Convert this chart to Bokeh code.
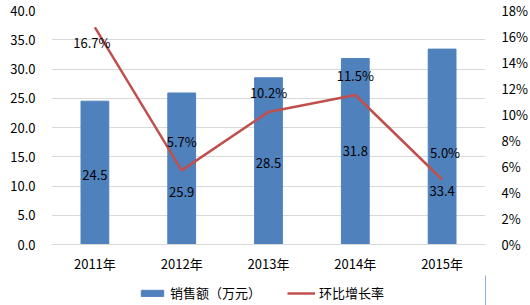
from bokeh.plotting import figure
from bokeh.layouts import column
from bokeh.models import (ColumnDataSource, Range1d, LinearAxis, FixedTicker,
                          PrintfTickFormatter, Legend, LegendItem, LabelSet)
from bokeh.core.properties import value
from bokeh.embed import file_html
from bokeh.resources import INLINE

years = ["2011年", "2012年", "2013年", "2014年", "2015年"]
sales = [24.5, 25.9, 28.5, 31.8, 33.4]
growth = [16.7, 5.7, 10.2, 11.5, 5.0]
sales_labels = ["24.5", "25.9", "28.5", "31.8", "33.4"]
growth_labels = ["16.7%", "5.7%", "10.2%", "11.5%", "5.0%"]
series_names = ["销售额（万元）", "环比增长率"]

FONT = "Noto Sans CJK SC"
BLUE = "#4f81bd"
RED = "#c0504d"
FS = "13px"

src = ColumnDataSource(dict(
    x=years, sales=sales, half=[v / 2 for v in sales], growth=growth,
    slab=sales_labels, glab=growth_labels,
    soff=[-2, -23, -2, 0, -44],
    goff=[-15, 29, 19, 20, 27],
    gxoff=[-3, 0, 0, 0, 3],
))

p = figure(x_range=years, y_range=Range1d(0, 40),
           width=530, height=275,
           output_backend="svg", toolbar_location=None,
           min_border_left=51, min_border_right=44, min_border_top=10,
           min_border_bottom=30)
p.extra_y_ranges = {"pct": Range1d(0, 18)}
p.outline_line_color = None
p.background_fill_color = "white"

p.xgrid.grid_line_color = None
p.ygrid.grid_line_color = "#d9d9d9"
p.ygrid.ticker = FixedTicker(ticks=[0, 5, 10, 15, 20, 25, 30, 35, 40])

p.vbar(x="x", top="sales", width=0.32, source=src, fill_color=BLUE,
       line_color=BLUE)
p.line(x="x", y="growth", y_range_name="pct", source=src,
       line_color=RED, line_width=2.5)

p.add_layout(LabelSet(x="x", y="half", text="slab", source=src,
                      y_offset="soff",
                      text_align="center", text_baseline="middle",
                      text_font=value(FONT), text_font_size=FS,
                      text_color="#000000"))
p.add_layout(LabelSet(x="x", y="growth", y_range_name="pct", text="glab",
                      source=src, y_offset="goff", x_offset="gxoff",
                      text_align="center", text_baseline="middle",
                      text_font=value(FONT), text_font_size=FS,
                      text_color="#000000"))

p.yaxis.ticker = FixedTicker(ticks=[0, 5, 10, 15, 20, 25, 30, 35, 40])
p.yaxis.formatter = PrintfTickFormatter(format="%.1f")

right = LinearAxis(y_range_name="pct",
                   ticker=FixedTicker(ticks=list(range(0, 19, 2))),
                   formatter=PrintfTickFormatter(format="%d%%"))
p.add_layout(right, "right")

for ax in [p.yaxis[0], right, p.xaxis[0]]:
    ax.axis_line_color = None
    ax.major_tick_line_color = None
    ax.minor_tick_line_color = None
    ax.major_label_text_font = FONT
    ax.major_label_text_font_size = FS
    ax.major_label_text_color = "#000000"
p.yaxis[0].major_label_standoff = 10
right.major_label_standoff = 10
p.xaxis[0].major_label_standoff = 3
p.xaxis[0].axis_line_color = "#d9d9d9"

# legend strip (its sample glyphs sit outside the visible range)
lg = figure(width=530, height=30, x_range=Range1d(0, 1), y_range=Range1d(0, 1),
            output_backend="svg", toolbar_location=None,
            x_axis_location=None, y_axis_location=None,
            min_border_left=0, min_border_right=0, min_border_top=0,
            min_border_bottom=0)
lg.outline_line_color = None
lg.xgrid.grid_line_color = None
lg.ygrid.grid_line_color = None
r_bar = lg.vbar(x=[5], top=[5], width=0.3, fill_color=BLUE, line_color=BLUE)
r_line = lg.line(x=[5, 6], y=[5, 6], line_color=RED, line_width=2.5)
legend = Legend(items=[LegendItem(label=series_names[0], renderers=[r_bar]),
                       LegendItem(label=series_names[1], renderers=[r_line])],
                orientation="horizontal", location=(87, 3),
                label_text_font=FONT, label_text_font_size=FS,
                label_text_color="#000000", border_line_color=None,
                background_fill_alpha=0, glyph_width=28, glyph_height=8,
                label_height=14, spacing=26, padding=2, margin=0,
                label_standoff=4)
lg.add_layout(legend, "center")

open("out.html", "w").write(file_html(column(p, lg, spacing=0), INLINE))
